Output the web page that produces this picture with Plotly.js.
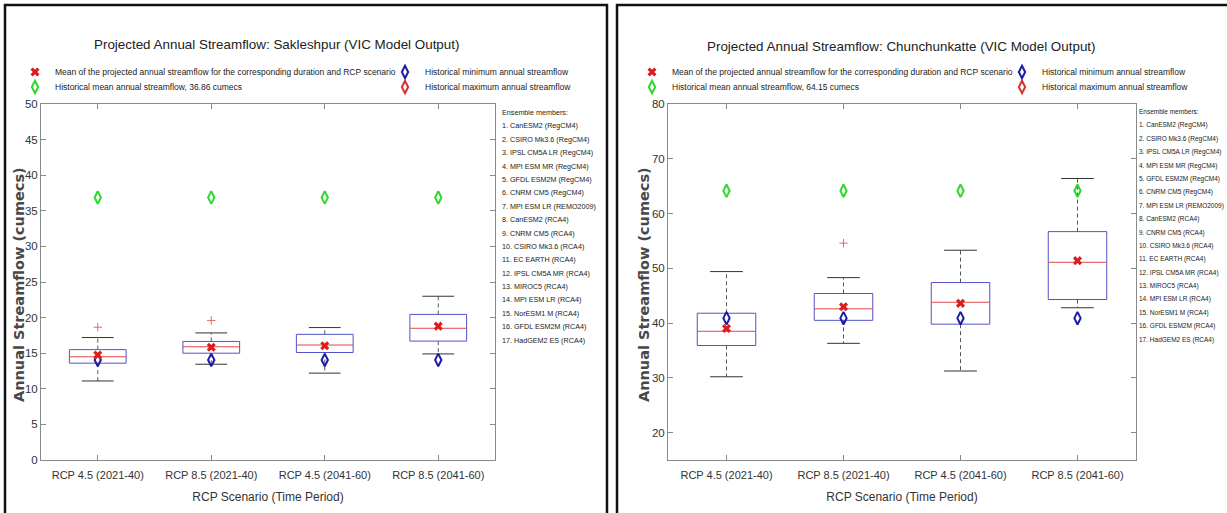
<!DOCTYPE html>
<html><head><meta charset="utf-8">
<script src="https://cdn.plot.ly/plotly-3.0.1.min.js"></script>
<style>html,body{margin:0;padding:0;background:#fff}#chart{width:1227px;height:513px}</style>
</head><body><div id="chart"></div>
<script>
// ---------------- data ----------------
const scenarios = ['RCP 4.5 (2021-40)', 'RCP 8.5 (2021-40)', 'RCP 4.5 (2041-60)', 'RCP 8.5 (2041-60)'];
const scenarioPos = [1, 2, 3, 4];

// Sakleshpur (cumecs)
const sakLowerWhisker = [11.1, 13.45, 12.2, 14.9];
const sakQ1 = [13.6, 15.0, 15.1, 16.7];
const sakMedian = [14.5, 15.9, 16.15, 18.5];
const sakQ3 = [15.5, 16.65, 17.65, 20.45];
const sakUpperWhisker = [17.2, 17.85, 18.6, 23.0];
const sakMean = [14.75, 15.85, 16.05, 18.8];
const sakOutlierPos = [1, 2];
const sakOutlierVal = [18.65, 19.6];
const sakHistMean = 36.86;
const sakHistMin = 14.05;

// Chunchunkatte (cumecs)
const chuLowerWhisker = [30.2, 36.3, 31.25, 42.8];
const chuQ1 = [35.9, 40.5, 39.8, 44.3];
const chuMedian = [38.5, 42.6, 43.8, 51.1];
const chuQ3 = [41.8, 45.4, 47.4, 56.7];
const chuUpperWhisker = [49.4, 48.3, 53.3, 66.4];
const chuMean = [39.0, 43.0, 43.6, 51.4];
const chuOutlierPos = [2];
const chuOutlierVal = [54.6];
const chuHistMean = 64.15;
const chuHistMin = 40.9;

const ensembleMembers = ['CanESM2 (RegCM4)', 'CSIRO Mk3.6 (RegCM4)', 'IPSL CM5A LR (RegCM4)', 'MPI ESM MR (RegCM4)',
  'GFDL ESM2M (RegCM4)', 'CNRM CM5 (RegCM4)', 'MPI ESM LR (REMO2009)', 'CanESM2 (RCA4)', 'CNRM CM5 (RCA4)',
  'CSIRO Mk3.6 (RCA4)', 'EC EARTH (RCA4)', 'IPSL CM5A MR (RCA4)', 'MIROC5 (RCA4)', 'MPI ESM LR (RCA4)',
  'NorESM1 M (RCA4)', 'GFDL ESM2M (RCA4)', 'HadGEM2 ES (RCA4)'];

// ---------------- styling ----------------
const SANS = '"Liberation Sans", Arial, sans-serif';
const W = 1227, H = 513;
const BOX_HW = 0.25, CAP_HW = 0.14;
const C_BOX = '#5252c8', C_MED = '#e04848', C_WHISK = '#555555', C_CAP = '#333333';
const C_MEAN = '#dd1c1c', C_HMEAN = '#2fd82f', C_HMIN = '#1c1ca8', C_HMAX = '#dd3030', C_OUT = '#e06a6a';
const LEG_COL = 325;

function panel(d, X, Y, legA, legB, histMeanLabel) {
  const bx = [], by = [], mx = [], my = [], wx = [], wy = [], cx = [], cy = [];
  scenarioPos.forEach((p, i) => {
    bx.push(p - BOX_HW, p + BOX_HW, p + BOX_HW, p - BOX_HW, p - BOX_HW, null);
    by.push(d.q1[i], d.q1[i], d.q3[i], d.q3[i], d.q1[i], null);
    mx.push(p - BOX_HW, p + BOX_HW, null); my.push(d.med[i], d.med[i], null);
    wx.push(p, p, null, p, p, null); wy.push(d.q3[i], d.up[i], null, d.q1[i], d.lo[i], null);
    cx.push(p - CAP_HW, p + CAP_HW, null, p - CAP_HW, p + CAP_HW, null);
    cy.push(d.up[i], d.up[i], null, d.lo[i], d.lo[i], null);
  });
  const common = {xaxis: X, yaxis: Y, hoverinfo: 'skip'};
  const diamond = c => ({symbol: 'diamond-tall-open', size: 9, color: c, line: {color: c, width: 2}});
  return [
    Object.assign({type: 'scatter', mode: 'lines', x: wx, y: wy, line: {color: C_WHISK, width: 1, dash: '4px,3px'}, showlegend: false}, common),
    Object.assign({type: 'scatter', mode: 'lines', x: cx, y: cy, line: {color: C_CAP, width: 1}, showlegend: false}, common),
    Object.assign({type: 'scatter', mode: 'lines', x: bx, y: by, line: {color: C_BOX, width: 1}, showlegend: false}, common),
    Object.assign({type: 'scatter', mode: 'lines', x: mx, y: my, line: {color: C_MED, width: 1}, showlegend: false}, common),
    Object.assign({type: 'scatter', mode: 'markers', x: d.outPos, y: d.outVal,
      marker: {symbol: 'cross-thin-open', size: 6, color: C_OUT, line: {color: C_OUT, width: 1}}, showlegend: false}, common),
    Object.assign({type: 'scatter', mode: 'markers', x: scenarioPos, y: scenarioPos.map(() => d.histMean),
      name: histMeanLabel, legend: legB, legendrank: 1, legendwidth: LEG_COL, marker: diamond(C_HMEAN)}, common),
    Object.assign({type: 'scatter', mode: 'markers', x: [null], y: [null],
      name: 'Historical maximum annual streamflow', legend: legB, legendrank: 2, marker: diamond(C_HMAX)}, common),
    Object.assign({type: 'scatter', mode: 'markers', x: scenarioPos, y: scenarioPos.map(() => d.histMin),
      name: 'Historical minimum annual streamflow', legend: legA, legendrank: 2, marker: diamond(C_HMIN)}, common),
    Object.assign({type: 'scatter', mode: 'markers', x: scenarioPos, y: d.mean,
      name: 'Mean of the projected annual streamflow for the corresponding duration and RCP scenario',
      legend: legA, legendrank: 1, legendwidth: LEG_COL,
      marker: {symbol: 'x', size: 8, color: C_MEAN, line: {width: 0}}}, common)
  ];
}

const traces = [].concat(
  panel({lo: sakLowerWhisker, q1: sakQ1, med: sakMedian, q3: sakQ3, up: sakUpperWhisker, mean: sakMean,
         outPos: sakOutlierPos, outVal: sakOutlierVal, histMean: sakHistMean, histMin: sakHistMin},
        'x', 'y', 'legend', 'legend2', 'Historical mean annual streamflow, ' + sakHistMean.toFixed(2) + ' cumecs'),
  panel({lo: chuLowerWhisker, q1: chuQ1, med: chuMedian, q3: chuQ3, up: chuUpperWhisker, mean: chuMean,
         outPos: chuOutlierPos, outVal: chuOutlierVal, histMean: chuHistMean, histMin: chuHistMin},
        'x2', 'y2', 'legend3', 'legend4', 'Historical mean annual streamflow, ' + chuHistMean.toFixed(2) + ' cumecs')
);

const px = v => v / W, py = v => 1 - v / H;
function xAxis(dom, anchor) {
  return {domain: dom, anchor: anchor, range: [0.5, 4.5], tickvals: scenarioPos, ticktext: scenarios,
    ticks: 'inside', ticklen: 5, tickcolor: '#888', showline: true, linecolor: '#8a8a8a', mirror: 'ticks',
    showgrid: false, zeroline: false, tickfont: {family: SANS, size: 11, color: '#333'}, fixedrange: true,
    ticklabelstandoff: 5,
    title: {text: 'RCP Scenario (Time Period)', font: {family: SANS, size: 12, color: '#333'}, standoff: 12}};
}
function yAxis(dom, anchor, range, dtick) {
  return {domain: dom, anchor: anchor, range: range, dtick: dtick, tick0: 0,
    ticks: 'inside', ticklen: 5, tickcolor: '#888', showline: true, linecolor: '#8a8a8a', mirror: 'ticks',
    showgrid: false, zeroline: false, tickfont: {family: SANS, size: 11.5, color: '#333'}, fixedrange: true};
}
const yDom = [py(460), py(104)];
function leg(xp, yp) {
  return {x: px(xp), y: py(yp), xanchor: 'left', yanchor: 'middle', orientation: 'h',
    font: {family: SANS, size: 8.5, color: '#222'}, bgcolor: 'rgba(0,0,0,0)', borderwidth: 0,
    itemwidth: 30, traceorder: 'normal', itemclick: false};
}
function ensText(sz) {
  return ['Ensemble members:'].concat(ensembleMembers.map((m, i) => (i + 1) + '. ' + m))
    .map(s => '<span style="font-size:' + sz + 'px">' + s + '</span>').join('<br>');
}
const ensFont = {family: SANS, size: 10.3, color: '#222'};
const titleFont = {family: SANS, size: 13.4, color: '#222'};
const yTitleFont = {family: '"DejaVu Sans", sans-serif', size: 14.5, color: '#484848', weight: 'bold'};
const yTitle = 'Annual Streamflow (cumecs)';

const layout = {
  width: W, height: H, margin: {l: 0, r: 0, t: 0, b: 0}, paper_bgcolor: '#fff', plot_bgcolor: '#fff',
  showlegend: true,
  xaxis: xAxis([px(41), px(495)], 'y'),
  yaxis: yAxis(yDom, 'x', [0, 50], 5),
  xaxis2: xAxis([px(668), px(1136)], 'y2'),
  yaxis2: yAxis(yDom, 'x2', [15, 80], 10),
  legend: leg(15, 72), legend2: leg(15, 87), legend3: leg(632, 72), legend4: leg(632, 87),
  annotations: [
    {text: 'Projected Annual Streamflow: Sakleshpur (VIC Model Output)', xref: 'paper', yref: 'paper',
     x: px(276), y: py(44), xanchor: 'center', yanchor: 'middle', showarrow: false, font: titleFont},
    {text: 'Projected Annual Streamflow: Chunchunkatte (VIC Model Output)', xref: 'paper', yref: 'paper',
     x: px(901), y: py(47), xanchor: 'center', yanchor: 'middle', showarrow: false, font: titleFont},
    {text: yTitle, xref: 'paper', yref: 'paper', x: px(19), y: py(285), xanchor: 'center', yanchor: 'middle',
     textangle: -90, showarrow: false, font: yTitleFont},
    {text: yTitle, xref: 'paper', yref: 'paper', x: px(644), y: py(285), xanchor: 'center', yanchor: 'middle',
     textangle: -90, showarrow: false, font: yTitleFont},
    {text: ensText(7.2), xref: 'paper', yref: 'paper', x: px(500), y: py(106), xanchor: 'left', yanchor: 'top',
     align: 'left', showarrow: false, font: ensFont},
    {text: ensText(6.5), xref: 'paper', yref: 'paper', x: px(1137), y: py(106), xanchor: 'left', yanchor: 'top',
     align: 'left', showarrow: false, font: ensFont}
  ],
  shapes: [
    {type: 'rect', xref: 'paper', yref: 'paper', x0: px(5), x1: px(607), y0: py(530), y1: py(5),
     line: {color: '#111', width: 2.5}},
    {type: 'rect', xref: 'paper', yref: 'paper', x0: px(617), x1: px(1232), y0: py(530), y1: py(5),
     line: {color: '#111', width: 2.5}}
  ]
};

Plotly.newPlot('chart', traces, layout, {staticPlot: true, displayModeBar: false});
</script></body></html>
